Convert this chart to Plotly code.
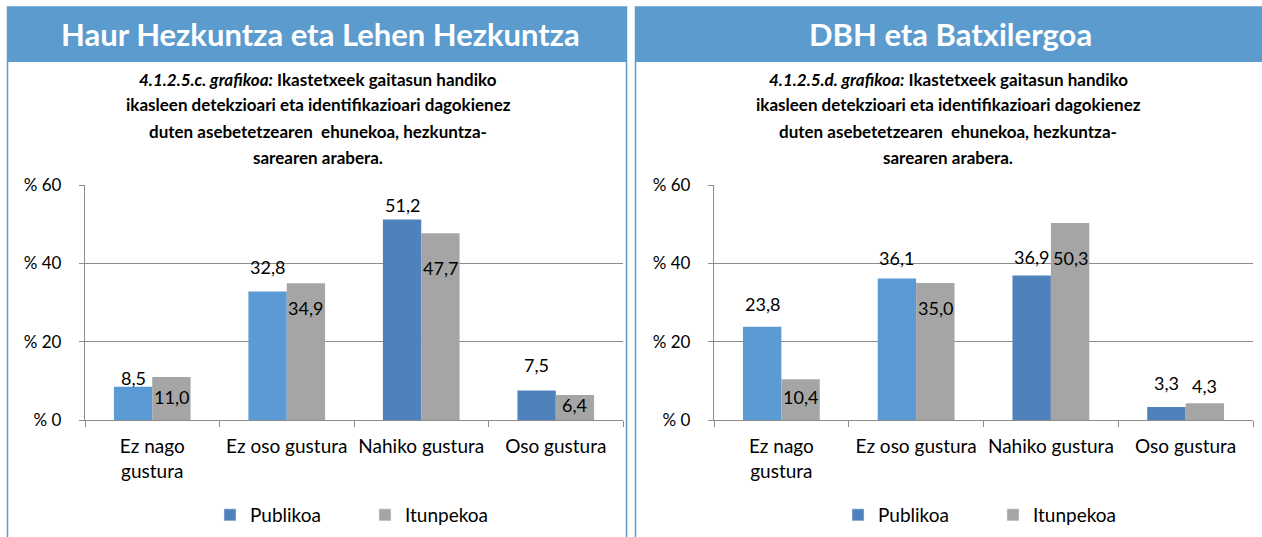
import plotly.graph_objects as go

W, H = 1262, 537

categories = ["Ez nago gustura", "Ez oso gustura", "Nahiko gustura", "Oso gustura"]
tick_labels = ["Ez nago<br>gustura", "Ez oso gustura", "Nahiko gustura", "Oso gustura"]
series_names = ["Publikoa", "Itunpekoa"]

left_publikoa = [8.5, 32.8, 51.2, 7.5]
left_itunpekoa = [11.0, 34.9, 47.7, 6.4]
right_publikoa = [23.8, 36.1, 36.9, 3.3]
right_itunpekoa = [10.4, 35.0, 50.3, 4.3]

y_tickvals = [0, 20, 40, 60]
y_ticktext = ["% 0", "% 20", "% 40", "% 60"]

left_header = "Haur Hezkuntza eta Lehen Hezkuntza"
right_header = "DBH eta Batxilergoa"
left_title = ["<i>4.1.2.5.c. grafikoa:</i> Ikastetxeek gaitasun handiko",
              "ikasleen detekzioari eta identifikazioari dagokienez",
              "duten asebetetzearen  ehunekoa, hezkuntza-",
              "sarearen arabera."]
right_title = ["<i>4.1.2.5.d. grafikoa:</i> Ikastetxeek gaitasun handiko",
               "ikasleen detekzioari eta identifikazioari dagokienez",
               "duten asebetetzearen  ehunekoa, hezkuntza-",
               "sarearen arabera."]

# styles / label offsets (pixels)
C_LIGHT = "#5B9BD5"
C_DARK = "#4F81BD"
C_GRAY = "#A5A5A5"
pub_colors = [C_LIGHT, C_LIGHT, C_DARK, C_DARK]
HEAD = "#5B9BCD"
GRID = "#8C8C8C"
FONT = "Lato"

left_pub_shift = [9, 25, 14, 26]
left_itu_shift = [-20, -25, -35, -10]
right_pub_shift = [23, 21, 18, 24]
right_itu_shift = [-18, -25, -35, 17]

def px(x):
    return x / W

def py(y):
    return 1 - y / H

fig = go.Figure()

panels = [
    dict(xa="x", ya="y", pub=left_publikoa, itu=left_itunpekoa,
         ps=left_pub_shift, is_=left_itu_shift, dom=(85, 623), legend="legend"),
    dict(xa="x2", ya="y2", pub=right_publikoa, itu=right_itunpekoa,
         ps=right_pub_shift, is_=right_itu_shift, dom=(714, 1253), legend="legend2"),
]

annotations = []
for p in panels:
    fig.add_trace(go.Bar(x=categories, y=p["pub"], name=series_names[0],
                         marker=dict(color=pub_colors, line=dict(width=0)),
                         xaxis=p["xa"], yaxis=p["ya"], offsetgroup="a",
                         showlegend=False, hoverinfo="skip"))
    fig.add_trace(go.Bar(x=categories, y=p["itu"], name=series_names[1],
                         marker=dict(color=C_GRAY, line=dict(width=0)),
                         xaxis=p["xa"], yaxis=p["ya"], offsetgroup="b",
                         showlegend=False, hoverinfo="skip"))
    # legend entries
    fig.add_trace(go.Bar(x=[None], y=[None], name=series_names[0],
                         marker=dict(color=C_DARK), xaxis=p["xa"], yaxis=p["ya"],
                         offsetgroup="a", legend=p["legend"]))
    fig.add_trace(go.Bar(x=[None], y=[None], name=series_names[1],
                         marker=dict(color=C_GRAY), xaxis=p["xa"], yaxis=p["ya"],
                         offsetgroup="b", legend=p["legend"]))
    catw = (p["dom"][1] - p["dom"][0]) / len(categories)
    off = catw * 0.57 / 4
    for i, c in enumerate(categories):
        annotations.append(dict(x=c, y=p["pub"][i], xref=p["xa"], yref=p["ya"],
                                text=f"{p['pub'][i]:.1f}".replace(".", ","),
                                showarrow=False, xshift=-off, yshift=p["ps"][i],
                                xanchor="center", yanchor="middle",
                                font=dict(family=FONT, size=18, color="#000")))
        annotations.append(dict(x=c, y=p["itu"][i], xref=p["xa"], yref=p["ya"],
                                text=f"{p['itu'][i]:.1f}".replace(".", ","),
                                showarrow=False, xshift=off, yshift=p["is_"][i],
                                xanchor="center", yanchor="middle",
                                font=dict(family=FONT, size=18, color="#000")))

# headers and titles
for cx, head, lines in [(320, left_header, left_title), (950, right_header, right_title)]:
    annotations.append(dict(x=px(cx), y=py(34), xref="paper", yref="paper",
                            text=f"<b>{head}</b>", showarrow=False,
                            xanchor="center", yanchor="middle",
                            font=dict(family=FONT, size=31, color="white")))
    for k, ln in enumerate(lines):
        annotations.append(dict(x=px(cx - 2), y=py(79 + 26 * k), xref="paper", yref="paper",
                                text=f"<b>{ln}</b>", showarrow=False,
                                xanchor="center", yanchor="middle",
                                font=dict(family=FONT, size=17, color="#000")))

shapes = [
    dict(type="rect", xref="paper", yref="paper", x0=px(7.5), x1=px(626.5),
         y0=py(545), y1=py(7), line=dict(color=HEAD, width=1.5), fillcolor="rgba(0,0,0,0)"),
    dict(type="rect", xref="paper", yref="paper", x0=px(635.5), x1=px(1265),
         y0=py(545), y1=py(7), line=dict(color=HEAD, width=1.5), fillcolor="rgba(0,0,0,0)"),
    dict(type="rect", xref="paper", yref="paper", x0=px(7), x1=px(627),
         y0=py(62), y1=py(7), line=dict(width=0), fillcolor=HEAD),
    dict(type="rect", xref="paper", yref="paper", x0=px(635), x1=px(1262),
         y0=py(62), y1=py(7), line=dict(width=0), fillcolor=HEAD),
]

ytick_font = dict(family=FONT, size=17, color="#000")
xtick_font = dict(family=FONT, size=19, color="#000")
ydom = [py(420), py(185)]
common_x = dict(type="category", categoryorder="array", categoryarray=categories,
                tickvals=categories, ticktext=tick_labels, tickson="boundaries",
                ticks="outside", ticklen=6, tickcolor=GRID, showline=True,
                linecolor=GRID, linewidth=1.3, showgrid=False, tickfont=xtick_font,
                tickangle=0, ticklabelstandoff=9, fixedrange=True)
common_y = dict(range=[0, 60], tickvals=y_tickvals, ticktext=y_ticktext,
                ticks="outside", ticklen=5, tickcolor=GRID, showline=True,
                linecolor=GRID, linewidth=1.3, showgrid=True, gridcolor=GRID,
                gridwidth=1.3, zeroline=False, tickfont=ytick_font, domain=ydom,
                ticklabelstandoff=14, fixedrange=True)

fig.update_layout(
    width=W, height=H,
    margin=dict(l=0, r=0, t=0, b=0, pad=0, autoexpand=False),
    paper_bgcolor="white", plot_bgcolor="white",
    barmode="group", bargap=0.43, bargroupgap=0,
    xaxis=dict(domain=[px(85), px(623)], anchor="y", **common_x),
    yaxis=dict(anchor="x", **common_y),
    xaxis2=dict(domain=[px(714), px(1253)], anchor="y2", **common_x),
    yaxis2=dict(anchor="x2", **common_y),
    legend=dict(orientation="h", x=px(210), y=py(515), xanchor="left", yanchor="middle",
                font=dict(family=FONT, size=19, color="#000"),
                entrywidth=110, entrywidthmode="pixels", bgcolor="rgba(0,0,0,0)"),
    legend2=dict(orientation="h", x=px(838), y=py(515), xanchor="left", yanchor="middle",
                 font=dict(family=FONT, size=19, color="#000"),
                 entrywidth=110, entrywidthmode="pixels", bgcolor="rgba(0,0,0,0)"),
    annotations=annotations,
    shapes=shapes,
    font=dict(family=FONT),
)

fig.write_html("out.html", config={"displayModeBar": False},
               post_script="document.body.style.margin='0';document.body.style.overflow='hidden';")
